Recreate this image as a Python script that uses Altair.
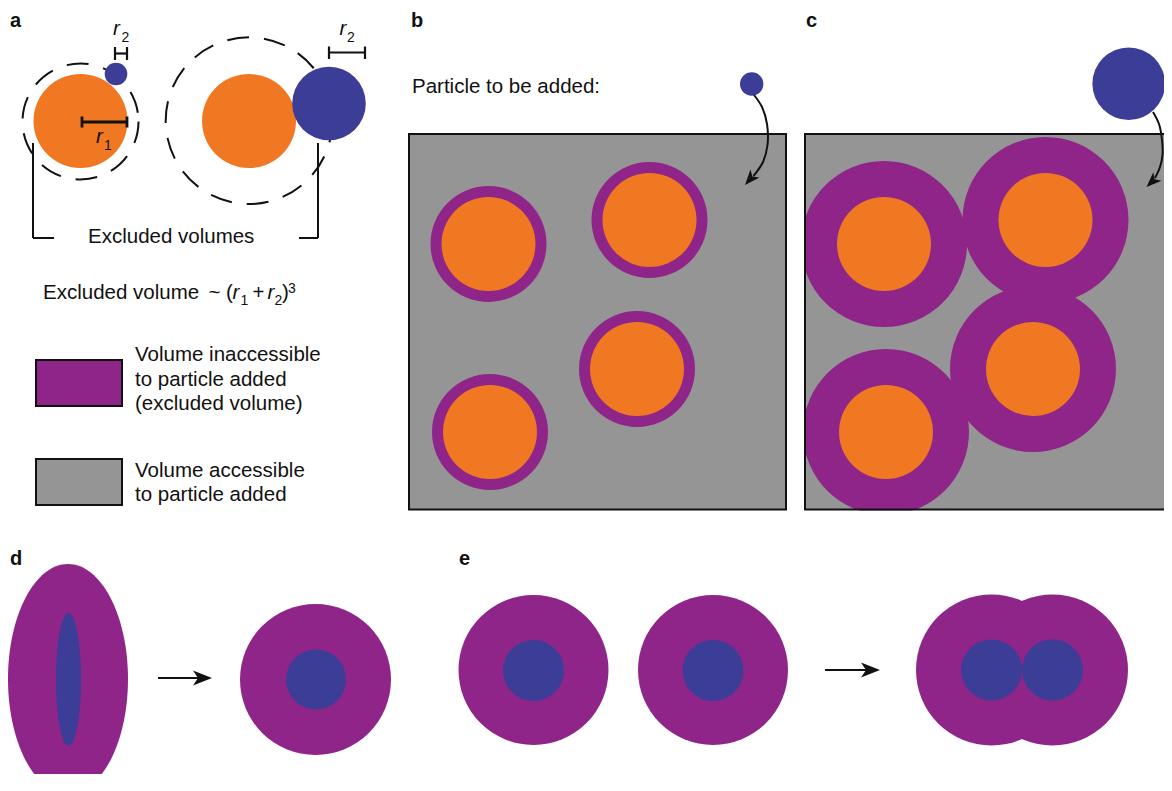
import altair as alt
import pandas as pd

ORANGE = "#F07822"
PURPLE = "#8F2588"
BLUE = "#3C3D97"
GRAY = "#959595"
INK = "#111111"

# ---------------- data (pixel positions) ----------------
# orange particles (panels a, b, c)
orange_x = [80.5, 249, 488.5, 649.5, 637, 490, 884, 1045.5, 1033, 886]
orange_y = [121, 121, 244, 220, 369, 432, 244, 220, 369, 432]
orange_r = [47, 47, 47, 47, 47, 47, 47, 47, 47, 47]

# purple excluded-volume shells (panels b, c, d, e)
purple_x = [488.5, 649.5, 637, 490, 884, 1045.5, 1033, 886, 315.5, 533.5, 713, 991.5, 1052.5]
purple_y = [244, 220, 369, 432, 244, 220, 369, 432, 679.5, 670, 670, 670, 670]
purple_r = [58, 58, 58, 58, 83, 83, 83, 83, 75.5, 75, 75, 75.5, 75.5]

# blue particles (panels a, b, c, d, e)
blue_x = [116, 329, 751.7, 1128.7, 316, 533.5, 713, 991.5, 1052.5]
blue_y = [74, 103.5, 84, 83.7, 679.5, 670.5, 670.5, 670, 670]
blue_r = [11.3, 36.8, 11.7, 36.3, 30, 30.5, 30.5, 30.5, 30.5]

# dashed excluded-volume outlines (panel a)
dash_x = [80.5, 249]
dash_y = [121.5, 120.7]
dash_r = [58, 83.3]

# ellipses (panel d)
ell_x = [68, 68.5]
ell_y = [679, 679.5]
ell_rx = [60, 12.5]
ell_ry = [115, 66.5]
ell_fill = [PURPLE, BLUE]

# boxes
box_x1 = [409, 805]
box_x2 = [786, 1180]
box_y1 = [134, 134]
box_y2 = [509.5, 509.5]

legend_x1 = [36, 36]
legend_x2 = [122, 122]
legend_y1 = [360, 459]
legend_y2 = [406, 505]
legend_fill = [PURPLE, GRAY]

# white masks that trim the shells of panel c to its box
mask_x1 = [790, 790]
mask_x2 = [804, 1180]
mask_y1 = [128, 510.5]
mask_y2 = [530, 530]

# straight segments: bracket, radius bars, straight arrow shafts
seg_x1 = [33, 33, 318, 299, 82, 82, 127, 115, 115, 127, 329, 329, 365, 158, 825]
seg_y1 = [143, 238, 143, 238, 122, 116.5, 116.5, 53.5, 47, 47, 52.5, 46.5, 46.5, 678, 670]
seg_x2 = [33, 54, 318, 318, 127, 82, 127, 127, 115, 127, 365, 329, 365, 200, 867]
seg_y2 = [238, 238, 238, 238, 122, 127.5, 127.5, 53.5, 60, 60, 52.5, 59, 59, 678, 670]
seg_w = [2, 2, 2, 2, 2.8, 2.8, 2.8, 2.2, 2.2, 2.2, 2.2, 2.2, 2.2, 2, 2]

# curved arrows (panels b, c)
curve_id = ["b"] * 6 + ["c"] * 6
curve_x = [754, 762, 767, 767.5, 763, 753.5, 1153, 1159, 1162, 1162.5, 1160, 1155]
curve_y = [95, 107, 124, 145, 162, 176, 112, 124, 140, 155, 167, 178]

# arrow heads: tip position, direction (deg, clockwise from up), scale
head_x = [212, 880, 745, 1146.5]
head_y = [678, 670, 185, 187]
head_angle = [90, 90, 221, 226]
head_scale = [10, 10, 8, 8]

# texts
label_text = ["a", "b", "c", "d", "e"]
label_x = [10, 411, 806, 10, 459]
label_y = [27, 27, 27, 565, 565]

body_text = ["Particle to be added:", "Excluded volumes", "Excluded volume", "~", "(", "+", ")",
             "Volume inaccessible", "to particle added", "(excluded volume)",
             "Volume accessible", "to particle added"]
body_x = [412, 88, 43, 208.5, 226, 252.5, 282, 135, 135, 135, 135, 135]
body_y = [93, 243, 299, 299, 299, 299, 299, 361, 385.5, 410, 476.5, 500.5]

ital_text = ["r", "r", "r", "r", "r"]
ital_x = [96, 113, 339.5, 232.5, 267.5]
ital_y = [143, 35, 35, 299, 299]

small_text = ["1", "2", "2", "1", "2", "3"]
small_x = [104, 121.5, 347, 240.5, 274.5, 288]
small_y = [150, 41.5, 41.5, 305, 305, 293]

# ---------------- chart ----------------
W, H = 1156, 766
XS = alt.Scale(domain=[8, 8 + W], nice=False, zero=False)
YS = alt.Scale(domain=[8, 8 + H], nice=False, zero=False, reverse=True)


def X(f):
    return alt.X(f, type="quantitative", scale=XS, axis=None)


def Y(f):
    return alt.Y(f, type="quantitative", scale=YS, axis=None)


def X2(f):
    return alt.X2(f)


def Y2(f):
    return alt.Y2(f)


def discs(xs, ys, rs, color):
    df = pd.DataFrame({"x": xs, "y": ys, "s": [(2 * r) ** 2 for r in rs]})
    return alt.Chart(df).mark_point(shape="circle", filled=True, color=color,
                                    opacity=1, strokeWidth=0).encode(
        X("x"), Y("y"), size=alt.Size("s:Q", scale=None))


def rects(x1, x2, y1, y2, **kw):
    df = pd.DataFrame({"x": x1, "x2": x2, "y": y1, "y2": y2})
    return alt.Chart(df).mark_rect(clip=True, **kw).encode(
        X("x"), X2("x2"), Y("y"), Y2("y2"))


gray_boxes = rects(box_x1, box_x2, box_y1, box_y2, color=GRAY)
box_lines = rects(box_x1, box_x2, box_y1, box_y2, fill="white", fillOpacity=0,
                  stroke=INK, strokeWidth=2)
masks = rects(mask_x1, mask_x2, mask_y1, mask_y2, color="white")

legend_df = pd.DataFrame({"x": legend_x1, "x2": legend_x2, "y": legend_y1,
                          "y2": legend_y2, "fill": legend_fill})
legend_boxes = alt.Chart(legend_df).mark_rect(stroke=INK, strokeWidth=2).encode(
    X("x"), X2("x2"), Y("y"), Y2("y2"), fill=alt.Fill("fill:N", scale=None))

ell_df = pd.DataFrame({
    "x": ell_x, "y": ell_y,
    "s": [(2 * ry) ** 2 for ry in ell_ry],
    "shape": [f"M0,-1A{rx / ry:.4f},1,0,1,1,0,1A{rx / ry:.4f},1,0,1,1,0,-1Z"
              for rx, ry in zip(ell_rx, ell_ry)],
    "fill": ell_fill,
})
ellipses = alt.Chart(ell_df).mark_point(filled=True, opacity=1, strokeWidth=0, clip=True).encode(
    X("x"), Y("y"), size=alt.Size("s:Q", scale=None),
    shape=alt.Shape("shape:N", scale=None), color=alt.Color("fill:N", scale=None))
ell_outer = ellipses.transform_filter(alt.datum.fill == PURPLE)
ell_inner = ellipses.transform_filter(alt.datum.fill == BLUE)

dash_df = pd.DataFrame({"x": dash_x, "y": dash_y, "s": [(2 * r) ** 2 for r in dash_r]})
dashed = alt.Chart(dash_df).mark_point(shape="circle", filled=False, color=INK,
                                       opacity=1, strokeWidth=2,
                                       strokeDash=[22, 15]).encode(
    X("x"), Y("y"), size=alt.Size("s:Q", scale=None))

seg_df = pd.DataFrame({"x": seg_x1, "y": seg_y1, "x2": seg_x2, "y2": seg_y2, "w": seg_w})
segments = alt.Chart(seg_df).mark_rule(color=INK).encode(
    X("x"), X2("x2"), Y("y"), Y2("y2"), strokeWidth=alt.StrokeWidth("w:Q", scale=None))

curve_df = pd.DataFrame({"id": curve_id, "x": curve_x, "y": curve_y,
                         "i": list(range(len(curve_x)))})
curves = alt.Chart(curve_df).mark_line(color=INK, strokeWidth=2,
                                       interpolate="catmull-rom").encode(
    X("x"), Y("y"), detail="id:N", order="i:Q")

ARROW = "M0,0L0.75,1.9L0,1.4L-0.75,1.9Z"
head_df = pd.DataFrame({"x": head_x, "y": head_y, "a": head_angle,
                        "s": [(2 * k) ** 2 for k in head_scale]})
heads = alt.Chart(head_df).mark_point(shape=ARROW, filled=True, color=INK,
                                      opacity=1, strokeWidth=0).encode(
    X("x"), Y("y"), size=alt.Size("s:Q", scale=None),
    angle=alt.Angle("a:Q", scale=None))


def texts(t, xs, ys, **kw):
    df = pd.DataFrame({"t": t, "x": xs, "y": ys})
    return alt.Chart(df).mark_text(align="left", baseline="alphabetic", color=INK,
                                   **kw).encode(X("x"), Y("y"), text="t:N")


labels = texts(label_text, label_x, label_y, font="Liberation Sans", fontSize=20,
               fontWeight="bold")
body = texts(body_text, body_x, body_y, font="Liberation Sans", fontSize=20.5)
ital = texts(ital_text, ital_x, ital_y, font="Liberation Sans", fontSize=20.5,
             fontStyle="italic")
small = texts(small_text, small_x, small_y, font="Liberation Sans", fontSize=14)

chart = alt.layer(
    gray_boxes,
    discs(purple_x, purple_y, purple_r, PURPLE),
    ell_outer,
    discs(orange_x, orange_y, orange_r, ORANGE),
    ell_inner,
    dashed,
    discs(blue_x, blue_y, blue_r, BLUE),
    masks,
    box_lines,
    legend_boxes,
    segments,
    curves,
    heads,
    labels,
    body,
    ital,
    small,
).properties(
    width=W, height=H, padding=0,
    autosize=alt.AutoSizeParams(type="none"),
    background="white",
).configure_view(stroke=None)

chart.save("out.html", embed_options={"renderer": "svg", "actions": False})
